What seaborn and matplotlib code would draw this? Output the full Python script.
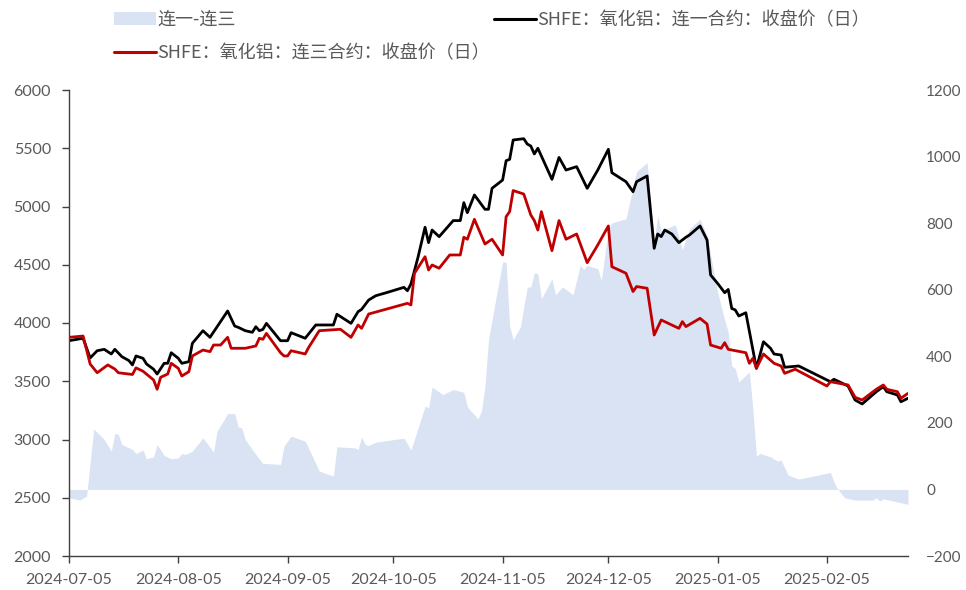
import matplotlib
matplotlib.use("Agg")
import matplotlib.pyplot as plt
from matplotlib.lines import Line2D
from matplotlib.patches import Patch
import pandas as pd
import seaborn as sns

# SHFE alumina, 1st-month contract close
first_dates = [
    "2024-07-05", "2024-07-09", "2024-07-11", "2024-07-13", "2024-07-15", "2024-07-17", "2024-07-18",
    "2024-07-20", "2024-07-22", "2024-07-23", "2024-07-24", "2024-07-26", "2024-07-27", "2024-07-29",
    "2024-07-30", "2024-08-01", "2024-08-02", "2024-08-03", "2024-08-05", "2024-08-06", "2024-08-08",
    "2024-08-09", "2024-08-12", "2024-08-14", "2024-08-19", "2024-08-21", "2024-08-22", "2024-08-24",
    "2024-08-26", "2024-08-27", "2024-08-28", "2024-08-29", "2024-08-30", "2024-09-03", "2024-09-05",
    "2024-09-06", "2024-09-10", "2024-09-13", "2024-09-18", "2024-09-19", "2024-09-23", "2024-09-25",
    "2024-09-26", "2024-09-28", "2024-09-30", "2024-10-03", "2024-10-08", "2024-10-09", "2024-10-10",
    "2024-10-12", "2024-10-14", "2024-10-15", "2024-10-16", "2024-10-18", "2024-10-22", "2024-10-24",
    "2024-10-25", "2024-10-26", "2024-10-28", "2024-10-31", "2024-11-01", "2024-11-02", "2024-11-05",
    "2024-11-06", "2024-11-07", "2024-11-08", "2024-11-11", "2024-11-12", "2024-11-13", "2024-11-14",
    "2024-11-15", "2024-11-19", "2024-11-21", "2024-11-23", "2024-11-26", "2024-11-29", "2024-12-02",
    "2024-12-05", "2024-12-06", "2024-12-10", "2024-12-12", "2024-12-13", "2024-12-16", "2024-12-18",
    "2024-12-19", "2024-12-20", "2024-12-21", "2024-12-23", "2024-12-25", "2024-12-27", "2024-12-28",
    "2024-12-31", "2025-01-02", "2025-01-03", "2025-01-05", "2025-01-07", "2025-01-08", "2025-01-09",
    "2025-01-10", "2025-01-11", "2025-01-13", "2025-01-16", "2025-01-18", "2025-01-20", "2025-01-21",
    "2025-01-23", "2025-01-24", "2025-01-28", "2025-02-06", "2025-02-07", "2025-02-11", "2025-02-13",
    "2025-02-15", "2025-02-19", "2025-02-21", "2025-02-22", "2025-02-25", "2025-02-26", "2025-02-28",
]
first_close = [
    3848, 3869, 3700, 3762, 3774, 3734, 3774,
    3711, 3677, 3640, 3717, 3697, 3648, 3603,
    3562, 3654, 3654, 3745, 3697, 3654, 3668,
    3826, 3934, 3877, 4103, 3974, 3963, 3934,
    3920, 3968, 3934, 3945, 3997, 3848, 3848,
    3917, 3869, 3983, 3983, 4075, 3997, 4097,
    4117, 4197, 4234, 4260, 4306, 4277, 4335,
    4564, 4822, 4690, 4798, 4741, 4879, 4879,
    5033, 4947, 5099, 4976, 4976, 5156, 5227,
    5393, 5405, 5571, 5582, 5536, 5519, 5451,
    5500, 5233, 5421, 5313, 5342, 5156, 5313,
    5491, 5290, 5213, 5127, 5213, 5262, 4641,
    4764, 4742, 4798, 4764, 4690, 4736, 4755,
    4833, 4712, 4412, 4340, 4260, 4288, 4125,
    4112, 4060, 4088, 3611, 3839, 3783, 3734,
    3725, 3620, 3631, 3496, 3517, 3459, 3339,
    3305, 3410, 3453, 3410, 3382, 3324, 3354,
]

# SHFE alumina, 3rd-month contract close
third_dates = [
    "2024-07-05", "2024-07-09", "2024-07-11", "2024-07-13", "2024-07-16", "2024-07-18", "2024-07-19",
    "2024-07-23", "2024-07-24", "2024-07-26", "2024-07-29", "2024-07-30", "2024-07-31", "2024-08-02",
    "2024-08-03", "2024-08-05", "2024-08-06", "2024-08-08", "2024-08-09", "2024-08-12", "2024-08-14",
    "2024-08-15", "2024-08-17", "2024-08-19", "2024-08-20", "2024-08-24", "2024-08-27", "2024-08-28",
    "2024-08-29", "2024-08-30", "2024-09-03", "2024-09-04", "2024-09-05", "2024-09-06", "2024-09-10",
    "2024-09-11", "2024-09-14", "2024-09-20", "2024-09-23", "2024-09-25", "2024-09-26", "2024-09-28",
    "2024-10-09", "2024-10-10", "2024-10-11", "2024-10-14", "2024-10-15", "2024-10-16", "2024-10-18",
    "2024-10-21", "2024-10-24", "2024-10-25", "2024-10-26", "2024-10-28", "2024-10-31", "2024-11-02",
    "2024-11-05", "2024-11-06", "2024-11-07", "2024-11-08", "2024-11-11", "2024-11-13", "2024-11-14",
    "2024-11-15", "2024-11-16", "2024-11-19", "2024-11-21", "2024-11-23", "2024-11-26", "2024-11-29",
    "2024-12-02", "2024-12-05", "2024-12-06", "2024-12-10", "2024-12-12", "2024-12-13", "2024-12-16",
    "2024-12-18", "2024-12-20", "2024-12-25", "2024-12-26", "2024-12-27", "2024-12-31", "2025-01-02",
    "2025-01-03", "2025-01-06", "2025-01-07", "2025-01-08", "2025-01-13", "2025-01-14", "2025-01-15",
    "2025-01-16", "2025-01-18", "2025-01-21", "2025-01-23", "2025-01-24", "2025-01-27", "2025-02-05",
    "2025-02-06", "2025-02-11", "2025-02-13", "2025-02-15", "2025-02-19", "2025-02-21", "2025-02-22",
    "2025-02-25", "2025-02-26", "2025-02-28",
]
third_close = [
    3877, 3888, 3648, 3573, 3640, 3605, 3573,
    3558, 3615, 3586, 3511, 3431, 3534, 3562,
    3654, 3611, 3545, 3582, 3717, 3768, 3754,
    3811, 3811, 3877, 3783, 3783, 3803, 3869,
    3860, 3911, 3745, 3717, 3717, 3762, 3734,
    3791, 3934, 3946, 3877, 3983, 3954, 4077,
    4169, 4155, 4427, 4569, 4455, 4498, 4470,
    4584, 4584, 4736, 4719, 4890, 4678, 4719,
    4584, 4913, 4956, 5137, 5107, 4927, 4879,
    4798, 4956, 4621, 4879, 4719, 4764, 4518,
    4670, 4833, 4483, 4427, 4270, 4313, 4298,
    3897, 4026, 3954, 4012, 3969, 4040, 3991,
    3811, 3783, 3831, 3774, 3745, 3654, 3697,
    3611, 3734, 3654, 3631, 3568, 3603, 3459,
    3496, 3468, 3362, 3339, 3431, 3468, 3431,
    3410, 3354, 3396,
]

# spread 连一-连三 (right axis)
spread_dates = [
    "2024-07-05", "2024-07-08", "2024-07-10", "2024-07-12", "2024-07-15", "2024-07-17", "2024-07-18",
    "2024-07-19", "2024-07-20", "2024-07-23", "2024-07-24", "2024-07-26", "2024-07-27", "2024-07-29",
    "2024-07-30", "2024-08-01", "2024-08-03", "2024-08-05", "2024-08-06", "2024-08-07", "2024-08-09",
    "2024-08-12", "2024-08-15", "2024-08-16", "2024-08-19", "2024-08-21", "2024-08-22", "2024-08-23",
    "2024-08-24", "2024-08-27", "2024-08-29", "2024-08-30", "2024-09-03", "2024-09-04", "2024-09-06",
    "2024-09-10", "2024-09-14", "2024-09-18", "2024-09-19", "2024-09-24", "2024-09-25", "2024-09-26",
    "2024-09-27", "2024-09-28", "2024-09-30", "2024-10-08", "2024-10-10", "2024-10-14", "2024-10-15",
    "2024-10-16", "2024-10-19", "2024-10-22", "2024-10-25", "2024-10-26", "2024-10-29", "2024-10-30",
    "2024-10-31", "2024-11-01", "2024-11-03", "2024-11-05", "2024-11-06", "2024-11-07", "2024-11-08",
    "2024-11-10", "2024-11-12", "2024-11-13", "2024-11-14", "2024-11-15", "2024-11-16", "2024-11-19",
    "2024-11-20", "2024-11-22", "2024-11-25", "2024-11-27", "2024-11-28", "2024-11-29", "2024-12-02",
    "2024-12-03", "2024-12-05", "2024-12-06", "2024-12-10", "2024-12-11", "2024-12-13", "2024-12-15",
    "2024-12-16", "2024-12-18", "2024-12-19", "2024-12-20", "2024-12-21", "2024-12-24", "2024-12-26",
    "2024-12-27", "2024-12-28", "2024-12-31", "2025-01-02", "2025-01-04", "2025-01-05", "2025-01-07",
    "2025-01-08", "2025-01-09", "2025-01-10", "2025-01-11", "2025-01-13", "2025-01-14", "2025-01-15",
    "2025-01-16", "2025-01-17", "2025-01-20", "2025-01-22", "2025-01-23", "2025-01-25", "2025-01-28",
    "2025-02-06", "2025-02-07", "2025-02-08", "2025-02-10", "2025-02-13", "2025-02-18", "2025-02-19",
    "2025-02-20", "2025-02-21", "2025-02-28",
]
spread_values = [
    -25, -32, -20, 182, 150, 115, 168,
    165, 135, 120, 108, 118, 92, 98,
    135, 102, 92, 95, 108, 105, 115,
    155, 112, 175, 228, 228, 188, 185,
    150, 105, 78, 78, 75, 130, 160,
    145, 55, 40, 128, 125, 120, 158,
    135, 132, 142, 154, 118, 250, 245,
    308, 285, 300, 292, 248, 212, 235,
    310, 450, 568, 683, 683, 490, 450,
    487, 608, 608, 651, 648, 573, 633,
    585, 608, 585, 673, 661, 673, 663,
    628, 783, 801, 813, 860, 955, 973,
    982, 744, 822, 775, 782, 795, 720,
    750, 783, 812, 763, 648, 593, 508,
    473, 371, 363, 323, 343, 353, 240,
    100, 108, 98, 85, 88, 43, 31,
    51, 22, 2, -25, -32, -32, -25,
    -35, -28, -45,
]

x_ticks = ["2024-07-05", "2024-08-05", "2024-09-05", "2024-10-05",
           "2024-11-05", "2024-12-05", "2025-01-05", "2025-02-05"]

label_spread = "连一-连三"
label_first = "SHFE：氧化铝：连一合约：收盘价（日）"
label_third = "SHFE：氧化铝：连三合约：收盘价（日）"

AREA = "#dae3f3"
RED = "#c00000"
GREY = "#595959"
AXIS = "#404040"

first = pd.DataFrame({"date": pd.to_datetime(first_dates), "close": first_close})
third = pd.DataFrame({"date": pd.to_datetime(third_dates), "close": third_close})
spread = pd.DataFrame({"date": pd.to_datetime(spread_dates), "value": spread_values})

sns.set_theme(style="white")
plt.rcParams["font.family"] = ["Lato", "Noto Sans CJK SC", "DejaVu Sans"]

W, H = 966, 590
fig = plt.figure(figsize=(W / 100, H / 100), dpi=100)
ax = fig.add_axes([69 / W, 34 / H, 839 / W, 466 / H])
ax2 = ax.twinx()

ax2.fill_between(spread["date"], 0, spread["value"], color=AREA, linewidth=0)
sns.lineplot(data=first, x="date", y="close", color="black", linewidth=2.0, ax=ax)
sns.lineplot(data=third, x="date", y="close", color=RED, linewidth=2.0, ax=ax)

ax.set_zorder(ax2.get_zorder() + 1)
ax.patch.set_visible(False)

ax.set_xlim(pd.Timestamp("2024-07-05"), pd.Timestamp("2025-02-28"))
ax.set_ylim(2000, 6000)
ax.set_yticks(range(2000, 6001, 500))
ax2.set_ylim(-200, 1200)
ax2.set_yticks(range(-200, 1201, 200))
ax.set_xticks(pd.to_datetime(x_ticks))
ax.set_xticklabels(x_ticks)
ax.set_xlabel("")
ax.set_ylabel("")
ax2.set_ylabel("")

for side in ["top", "right"]:
    ax.spines[side].set_visible(False)
for side in ax2.spines:
    ax2.spines[side].set_visible(False)
for side in ["left", "bottom"]:
    ax.spines[side].set_color(AXIS)
    ax.spines[side].set_linewidth(1.0)

ax.tick_params(axis="both", which="major", left=True, bottom=True, direction="out",
               length=5, width=1, color=AXIS, labelsize=11.5, labelcolor=GREY)
ax.tick_params(axis="y", pad=8)
ax.tick_params(axis="x", pad=7)
ax2.tick_params(axis="y", right=False, length=0, labelsize=11, labelcolor=GREY, pad=13)

leg_font = {"family": ["Noto Sans CJK SC", "DejaVu Sans"], "size": 13}
common = dict(loc="center left", frameon=False, borderpad=0, borderaxespad=0,
              handlelength=2.35, handletextpad=0.05, labelcolor=GREY, prop=leg_font)
fig.legend(handles=[Patch(facecolor=AREA, edgecolor="none")], labels=[label_spread],
           bbox_to_anchor=(114 / W, 1 - 20 / H), **common)
fig.legend(handles=[Line2D([], [], color="black", linewidth=2.2)], labels=[label_first],
           bbox_to_anchor=(494 / W, 1 - 20 / H), **common)
fig.legend(handles=[Line2D([], [], color=RED, linewidth=2.2)], labels=[label_third],
           bbox_to_anchor=(114 / W, 1 - 53 / H), **common)

fig.savefig("out.png", dpi=100)
plt.close(fig)
